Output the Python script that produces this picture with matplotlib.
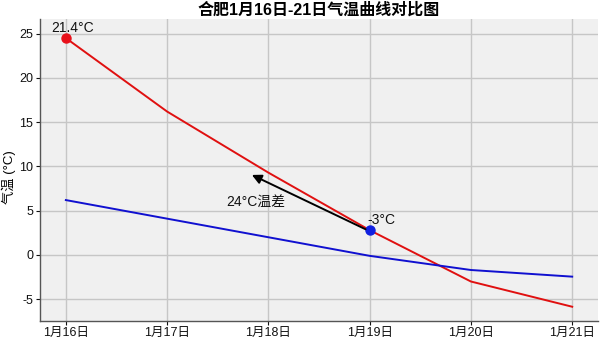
import matplotlib
matplotlib.use("Agg")
import matplotlib.pyplot as plt

plt.rcParams['font.family'] = ['Liberation Sans', 'Noto Sans CJK SC', 'DejaVu Sans']
plt.rcParams['axes.unicode_minus'] = False

dates = ['1月16日', '1月17日', '1月18日', '1月19日', '1月20日', '1月21日']
red_temps = [24.5, 16.2, 9.3, 2.8, -3.0, -5.85]
blue_temps = [6.2, 4.1, 2.0, -0.1, -1.7, -2.45]
yticks = [-5, 0, 5, 10, 15, 20, 25]

title = '合肥1月16日-21日气温曲线对比图'
ylabel = '气温 (°C)'
label_high = '21.4°C'
label_low = '-3°C'
diff_text = '24°C温差'

fig = plt.figure(figsize=(6.0, 3.37), dpi=100)
ax = fig.add_axes([0.0667, 0.0475, 0.93, 0.896])
ax.set_facecolor('#f0f0f0')

x = list(range(len(dates)))
ax.plot(x, red_temps, color='#e01010', lw=1.4, zorder=3)
ax.plot(x, blue_temps, color='#1010d0', lw=1.4, zorder=3)

ax.plot([x[0]], [red_temps[0]], 'o', color='#e8101a', ms=6.5, zorder=4)
ax.plot([x[3]], [red_temps[3]], 'o', color='#1020e0', ms=6.5, zorder=4)

ax.annotate(label_high, (x[0], red_temps[0]), xytext=(5, 2), textcoords='offset points',
            ha='center', va='bottom', fontsize=10, color='#111111')
ax.annotate(label_low, (x[3], red_temps[3]), xytext=(-2, 2.5), textcoords='offset points',
            ha='left', va='bottom', fontsize=10, color='#111111')

ax.annotate('', xy=(1.837, 9.04), xytext=(2.96, 2.9),
            arrowprops=dict(arrowstyle='-|>', color='black', lw=1.4, mutation_scale=14,
                            shrinkA=0, shrinkB=0),
            zorder=5)
ax.text(1.88, 5.9, diff_text, ha='center', va='center', fontsize=10, color='#111111')

ax.set_xlim(-0.255, 5.255)
ax.set_ylim(-7.46, 26.65)
ax.set_xticks(x)
ax.set_xticklabels(dates)
ax.set_yticks(yticks)
ax.tick_params(axis='both', labelsize=9, colors='#111111', length=3, width=0.8, pad=2)
ax.tick_params(axis='x', pad=1)
ax.grid(True, color='#c6c6c6', lw=1.0)
ax.set_axisbelow(True)
for s in ['top', 'right']:
    ax.spines[s].set_visible(False)
for s in ['left', 'bottom']:
    ax.spines[s].set_color('#555555')
    ax.spines[s].set_linewidth(1.0)

ax.set_ylabel(ylabel, fontsize=9.5)
ax.yaxis.set_label_coords(-0.043, 0.475)
ax.set_title(title, fontsize=11.5, fontweight='bold', pad=3)

fig.savefig('out.png', dpi=100, facecolor='white')
